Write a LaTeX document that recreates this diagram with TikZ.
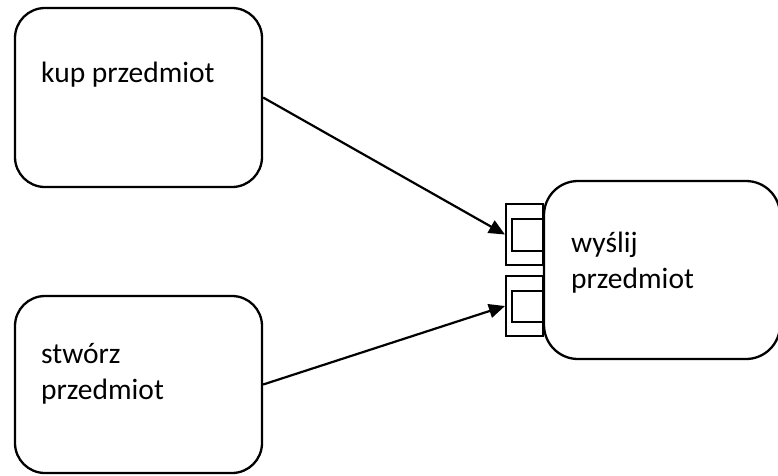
\documentclass[tikz,border=0pt]{standalone}
\usepackage{fontspec}
\setmainfont{Carlito}
\usetikzlibrary{arrows.meta}
\begin{document}
\begin{tikzpicture}[x=1pt,y=-1pt,
  actbox/.style={draw,line width=2.3pt,rounded corners=30pt,rectangle,inner sep=0pt},
  pinbox/.style={draw,line width=2.1pt,rectangle,inner sep=0pt},
  lbl/.style={anchor=base west,inner sep=0pt,font=\fontsize{29.5}{35.4}\selectfont,align=left},
  conn/.style={line width=2.2pt,-{Triangle[length=16pt,width=14pt]}}]
\useasboundingbox (0,0) rectangle (778,475);
\node[actbox,minimum width=247pt,minimum height=179pt] (kup) at (138.5,97.5) {};
\node[actbox,minimum width=247pt,minimum height=177pt] (stw) at (138.5,384.5) {};
\node[actbox,rounded corners=34pt,minimum width=236pt,minimum height=178pt] (wys) at (662,270) {};
\node[pinbox,minimum width=37pt,minimum height=61pt] (p1o) at (524.5,234.5) {};
\node[pinbox,minimum width=31pt,minimum height=32pt] (p1i) at (527.5,235) {};
\node[pinbox,minimum width=37pt,minimum height=60pt] (p2o) at (524.5,306) {};
\node[pinbox,minimum width=31pt,minimum height=31pt] (p2i) at (527.5,306.5) {};
\node[lbl] (t1) at (41,82) {kup przedmiot};
\node[lbl] (t2) at (41,399) {stwórz\\przedmiot};
\node[lbl] (t3) at (571,288) {wyślij\\przedmiot};
\draw[conn] (kup.east) -- (p1o.west);
\draw[conn] (stw.east) -- (p2o.west);
\end{tikzpicture}
\end{document}
